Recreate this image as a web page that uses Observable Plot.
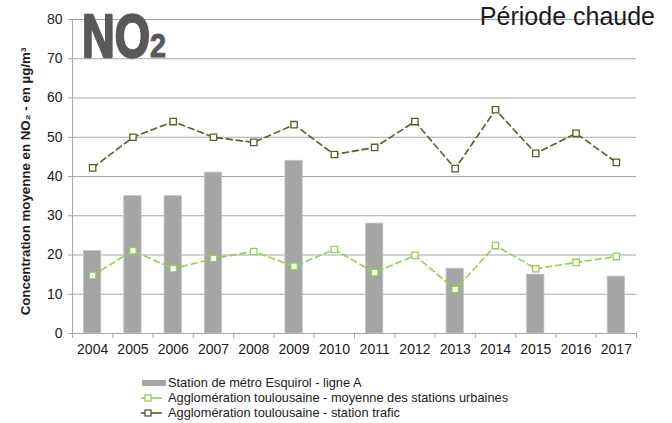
<!DOCTYPE html>
<html>
<head>
<meta charset="utf-8">
<script src="https://cdn.jsdelivr.net/npm/d3@7"></script>
<script src="https://cdn.jsdelivr.net/npm/@observablehq/plot@0.6"></script>
<style>
  html, body { margin: 0; padding: 0; background: #fff; }
  body { font-family: "Liberation Sans", Arial, sans-serif; }
  #wrap { position: relative; width: 672px; height: 423px; overflow: hidden; }
  #logo { position: absolute; left: 0; top: 0; }
  #title { position: absolute; right: 17px; top: 2px; font-size: 25px; color: #1a1a1a; white-space: nowrap; }
  #legend { position: absolute; left: 141px; top: 375px; font-size: 12.8px; color: #1a1a1a; }
  #legend .row { display: flex; align-items: center; height: 15px; white-space: nowrap; }
  #legend svg { margin-right: 2px; flex: none; }
</style>
</head>
<body>
<div id="wrap">
  <div id="chart"></div>
  <svg id="logo" width="200" height="70">
    <text x="82" y="57" font-family="'Liberation Sans Narrow', 'Liberation Sans', sans-serif" font-weight="bold" fill="#595959" stroke="#595959" stroke-linejoin="round"><tspan font-size="62" stroke-width="2.5" textLength="68" lengthAdjust="spacingAndGlyphs">NO</tspan><tspan font-size="33" stroke-width="1" textLength="16" lengthAdjust="spacingAndGlyphs">2</tspan></text>
  </svg>
  <div id="title">Période chaude</div>
  <div id="legend"></div>
</div>
<script>
const years = [2004, 2005, 2006, 2007, 2008, 2009, 2010, 2011, 2012, 2013, 2014, 2015, 2016, 2017];
const esquirol = [21, 35, 35, 41, null, 44, null, 28, null, 16.5, null, 15, null, 14.5];
const urbaines = [14.8, 21.1, 16.5, 19.1, 20.9, 17.1, 21.4, 15.5, 19.9, 11.2, 22.4, 16.5, 18.1, 19.6];
const trafic = [42.2, 50, 54, 50, 48.7, 53.2, 45.6, 47.4, 54, 42, 57, 45.9, 51, 43.6];
const yTicks = [0, 10, 20, 30, 40, 50, 60, 70, 80];
const seriesNames = [
  "Station de métro Esquirol - ligne A",
  "Agglomération toulousaine - moyenne des stations urbaines",
  "Agglomération toulousaine - station trafic"
];
const yLabel = "Concentration moyenne en NO₂ - en µg/m³";

const colBar = "#a5a5a5";
const colUrb = "#92d050";
const colTra = "#4f6228";

const barData = years.map((y, i) => ({year: y, v: esquirol[i]})).filter(d => d.v != null);
const urbData = years.map((y, i) => ({year: y, v: urbaines[i]}));
const traData = years.map((y, i) => ({year: y, v: trafic[i]}));
const bounds = d3.range(years.length + 1).map(i => years[0] - 0.5 + i);

const chart = Plot.plot({
  width: 672,
  height: 360,
  marginLeft: 72,
  marginRight: 36,
  marginTop: 19,
  marginBottom: 27,
  style: {fontFamily: "'Liberation Sans', Arial, sans-serif", fontSize: "14px", color: "#1a1a1a", background: "#fff"},
  x: {type: "linear", domain: [years[0] - 0.5, years[years.length - 1] + 0.5]},
  y: {domain: [0, 80]},
  marks: [
    Plot.ruleY(yTicks, {stroke: "#a6a6a6", strokeWidth: 1}),
    Plot.rectY(barData, {x1: d => d.year - 0.215, x2: d => d.year + 0.215, y: "v", fill: colBar, stroke: "#c4c4c4", strokeWidth: 0.8}),
    Plot.ruleX([years[0] - 0.5], {stroke: "#a6a6a6", strokeWidth: 1}),
    Plot.axisY({ticks: yTicks, tickSize: 4, tickPadding: 6, stroke: "#a6a6a6", label: null, fontSize: 14}),
    Plot.axisX({ticks: bounds, tickSize: 5, tickFormat: () => "", stroke: "#a6a6a6", label: null}),
    Plot.axisX({ticks: years, tickSize: 0, tickPadding: 11, tickFormat: d => String(d), label: null, fontSize: 14}),
    Plot.line(traData, {x: "year", y: "v", stroke: colTra, strokeWidth: 1.6, strokeDasharray: "6,4"}),
    Plot.dot(traData, {x: "year", y: "v", symbol: "square", r: 3.6, stroke: colTra, fill: "#fff", strokeWidth: 1.3}),
    Plot.line(urbData, {x: "year", y: "v", stroke: colUrb, strokeWidth: 1.6, strokeDasharray: "6,4"}),
    Plot.dot(urbData, {x: "year", y: "v", symbol: "square", r: 3.6, stroke: colUrb, fill: "#fff", strokeWidth: 1.3}),
    Plot.text([yLabel], {frameAnchor: "left", text: d => d, rotate: -90, textAnchor: "middle", dx: -47, dy: 5, fontWeight: "bold", fontSize: 13.3, fill: "#1a1a1a"})
  ]
});
document.getElementById("chart").appendChild(chart);

// Legend
const legend = document.getElementById("legend");
const swatches = [
  `<svg width="25" height="8"><rect x="1" y="1" width="24" height="6" fill="${colBar}"/></svg>`,
  `<svg width="25" height="10"><line x1="0" y1="5" x2="21" y2="5" stroke="${colUrb}" stroke-width="1.6"/><rect x="4" y="2" width="6" height="6" fill="#fff" stroke="${colUrb}" stroke-width="1.3"/></svg>`,
  `<svg width="25" height="10"><line x1="0" y1="5" x2="21" y2="5" stroke="${colTra}" stroke-width="1.6"/><rect x="4" y="2" width="6" height="6" fill="#fff" stroke="${colTra}" stroke-width="1.3"/></svg>`
];
seriesNames.forEach((name, i) => {
  const row = document.createElement("div");
  row.className = "row";
  row.innerHTML = swatches[i] + `<span>${name}</span>`;
  legend.appendChild(row);
});
</script>
</body>
</html>
